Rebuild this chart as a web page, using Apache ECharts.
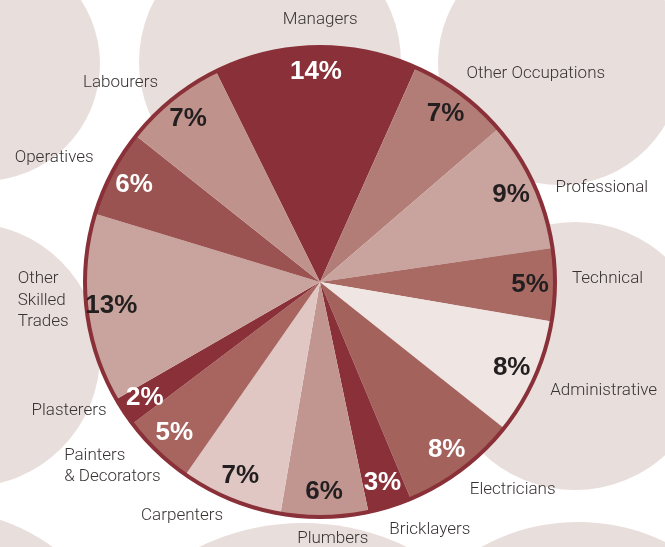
<!DOCTYPE html>
<html>
<head>
<meta charset="utf-8">
<script src="https://cdn.jsdelivr.net/npm/echarts@6/dist/echarts.min.js"></script>
<style>
  html, body { margin: 0; padding: 0; background: #fff; }
  #chart { width: 665px; height: 547px; }
</style>
</head>
<body>
<div id="chart"></div>
<script>
// occupations, clockwise from the top
const categories = ['Managers', 'Other Occupations', 'Professional', 'Technical', 'Administrative',
  'Electricians', 'Bricklayers', 'Plumbers', 'Carpenters', 'Painters\n& Decorators', 'Plasterers',
  'Other\nSkilled\nTrades', 'Operatives', 'Labourers'];
const shares = [14, 7, 9, 5, 8, 8, 3, 6, 7, 5, 2, 13, 6, 7];
const sliceColors = ['#8a3038', '#b27d76', '#c9a39d', '#a96a64', '#efe5e2', '#a4625c', '#8a3038',
  '#c29690', '#e0c7c3', '#a8655f', '#8a3038', '#c9a39d', '#9b5352', '#c0928c'];
const valueTextColors = ['#fff', '#231f20', '#231f20', '#231f20', '#231f20', '#fff', '#fff',
  '#231f20', '#231f20', '#fff', '#fff', '#231f20', '#fff', '#231f20'];

// labels that sit straight above / below the centre
const centredNames = ['Managers', 'Plumbers'];
// small hand nudges for the outer names (label styling, not data)
const nameNudge = {
  'Managers': [10, -12],
  'Other Occupations': [-8, -8],
  'Professional': [3, 9],
  'Technical': [-3, -6],
  'Administrative': [-3, 7],
  'Electricians': [-6, 8],
  'Bricklayers': [-10, 9],
  'Plumbers': [3, 7],
  'Carpenters': [3, 2],
  'Painters\n& Decorators': [19, 4],
  'Plasterers': [0, -9],
  'Other\nSkilled\nTrades': [2, -10],
  'Operatives': [0, -8],
  'Labourers': [0, -5]
};

const blob = '#e8dedb';
const ink = '#383333';

let chart = echarts.init(document.getElementById('chart'), null, { renderer: 'canvas' });

function clear() { return 'rgba(0,0,0,0)'; }

let sliceData = categories.map((name, i) => ({
  name: name,
  value: shares[i],
  itemStyle: { color: sliceColors[i] }
}));

let valueData = categories.map((name, i) => ({
  name: name,
  value: shares[i],
  itemStyle: { color: clear() },
  label: { color: valueTextColors[i] }
}));

let nameData = categories.map((name, i) => ({
  name: name,
  value: shares[i],
  itemStyle: { color: clear() }
}));

// decorative background discs
let discs = [
  [-17, 64, 117], [270, 62, 131], [560, 63, 122],
  [-32, 355, 132], [575, 356, 134],
  [-60, 700, 190], [303, 760, 237], [578, 722, 200]
].map(d => ({
  type: 'circle',
  shape: { cx: d[0], cy: d[1], r: d[2] },
  style: { fill: blob },
  silent: true,
  z: -10
}));

let center = [320, 282];

let option = {
  animation: false,
  backgroundColor: '#fff',
  graphic: discs,
  series: [
    {
      type: 'pie',
      center: center,
      radius: [0, 235],
      startAngle: 116.3,
      silent: true,
      label: { show: false },
      labelLine: { show: false },
      data: sliceData
    },
    {
      // percentages inside the slices
      type: 'pie',
      center: center,
      radius: [177, 237],
      startAngle: 116.3,
      silent: true,
      label: {
        show: true,
        position: 'inside',
        formatter: '{c}%',
        fontFamily: 'Liberation Sans, Arial, sans-serif',
        fontWeight: 'bold',
        fontSize: 26
      },
      labelLine: { show: false },
      data: valueData
    },
    {
      // category names round the outside
      type: 'pie',
      center: center,
      radius: [0, 237],
      startAngle: 116.3,
      silent: true,
      avoidLabelOverlap: false,
      label: {
        show: true,
        position: 'outside',
        formatter: '{n|{b}}',
        distanceToLabelLine: 5,
        rich: {
          n: {
            align: 'left',
            fontFamily: 'Roboto, sans-serif',
            fontWeight: 300,
            fontSize: 17,
            lineHeight: 21.5,
            color: ink
          }
        }
      },
      labelLine: { show: false, length: 13, length2: 0 },
      labelLayout: function (p) {
        let name = categories[p.dataIndex];
        let nudge = nameNudge[name] || [0, 0];
        let out = { dx: nudge[0], dy: nudge[1] };
        if (centredNames.indexOf(name) >= 0) out.align = 'center';
        return out;
      },
      data: nameData
    },
    {
      // dark outer rim
      type: 'pie',
      center: center,
      radius: [233, 237],
      silent: true,
      label: { show: false },
      labelLine: { show: false },
      data: [{ value: 1, name: 'rim', itemStyle: { color: '#8a3038' } }]
    }
  ]
};

chart.setOption(option);
</script>
</body>
</html>
